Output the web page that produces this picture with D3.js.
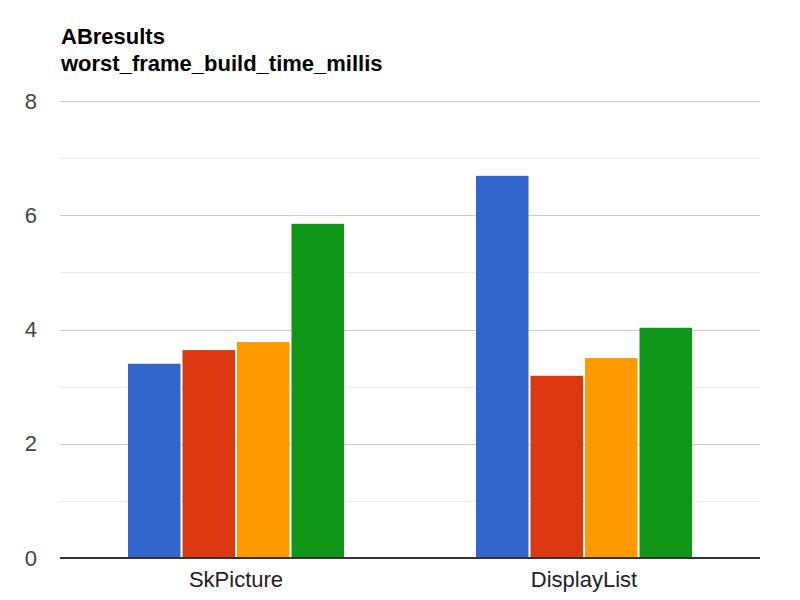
<!DOCTYPE html>
<html>
<head>
<meta charset="utf-8">
<script src="https://cdn.jsdelivr.net/npm/d3@7"></script>
<style>
  html, body { margin: 0; padding: 0; background: #fff; }
  svg { display: block; font-family: Arial, "Liberation Sans", sans-serif; }
</style>
</head>
<body>
<svg id="chart" width="800" height="600"></svg>
<script>
const titleLines = ["ABresults", "worst_frame_build_time_millis"];
const categories = ["SkPicture", "DisplayList"];
const seriesNames = ["A", "B", "C", "D"];
const seriesColors = ["#3366cc", "#dc3912", "#ff9900", "#109618"];
const valuesA = [3.40, 6.69];
const valuesB = [3.64, 3.19];
const valuesC = [3.78, 3.50];
const valuesD = [5.85, 4.03];
const majorTicks = [0, 2, 4, 6, 8];
const minorTicks = [1, 3, 5, 7];

const seriesValues = [valuesA, valuesB, valuesC, valuesD];

const svg = d3.select("#chart");
const plotLeft = 62, plotRight = 758, plotTop = 101, plotBottom = 558;
const gridLeft = 60, gridRight = 760;

const y = d3.scaleLinear().domain([0, 8]).range([plotBottom, plotTop]);
const x0 = d3.scaleBand().domain(categories).range([plotLeft, plotRight]).padding(0);
const groupW = 216;
const x1 = d3.scaleBand().domain(seriesNames)
  .range([(x0.bandwidth() - groupW) / 2, (x0.bandwidth() + groupW) / 2])
  .paddingInner(0.037);

// minor gridlines
svg.append("g").selectAll("line").data(minorTicks).join("line")
  .attr("x1", gridLeft).attr("x2", gridRight)
  .attr("y1", d => Math.round(y(d)) + 0.5).attr("y2", d => Math.round(y(d)) + 0.5)
  .attr("stroke", "#ebebeb").attr("stroke-width", 1);

// major gridlines
svg.append("g").selectAll("line").data(majorTicks.filter(d => d !== 0)).join("line")
  .attr("x1", gridLeft).attr("x2", gridRight)
  .attr("y1", d => Math.round(y(d)) + 0.5).attr("y2", d => Math.round(y(d)) + 0.5)
  .attr("stroke", "#cccccc").attr("stroke-width", 1);

// y labels via axis
const yAxis = d3.axisLeft(y).tickValues(majorTicks).tickSize(0).tickPadding(0).tickFormat(d3.format("d"));
const yg = svg.append("g").attr("transform", `translate(37,0)`).call(yAxis);
yg.select(".domain").remove();
yg.selectAll("text").attr("font-size", 22).attr("fill", "#444444")
  .attr("font-family", "Arial, 'Liberation Sans', sans-serif");

// bars
const groups = svg.append("g").selectAll("g").data(categories).join("g")
  .attr("transform", c => `translate(${x0(c)},0)`);
groups.selectAll("rect")
  .data((c, ci) => seriesNames.map((s, si) => ({ s, si, v: seriesValues[si][ci] })))
  .join("rect")
  .attr("x", d => x1(d.s))
  .attr("width", x1.bandwidth())
  .attr("y", d => y(d.v))
  .attr("height", d => y(0) - y(d.v))
  .attr("fill", d => seriesColors[d.si]);

// baseline
svg.append("line")
  .attr("x1", gridLeft).attr("x2", gridRight)
  .attr("y1", y(0)).attr("y2", y(0))
  .attr("stroke", "#333333").attr("stroke-width", 2);

// x labels via axis
const xAxis = d3.axisBottom(x0).tickSize(0).tickPadding(0);
const xg = svg.append("g").attr("transform", `translate(0,571)`).call(xAxis);
xg.select(".domain").remove();
xg.selectAll("text").attr("font-size", 22).attr("fill", "#222222")
  .attr("font-family", "Arial, 'Liberation Sans', sans-serif");

// title
svg.append("g").selectAll("text").data(titleLines).join("text")
  .attr("x", 61).attr("y", (d, i) => 44 + i * 27)
  .attr("font-size", 22).attr("font-weight", "bold").attr("fill", "#000")
  .text(d => d);
</script>
</body>
</html>
